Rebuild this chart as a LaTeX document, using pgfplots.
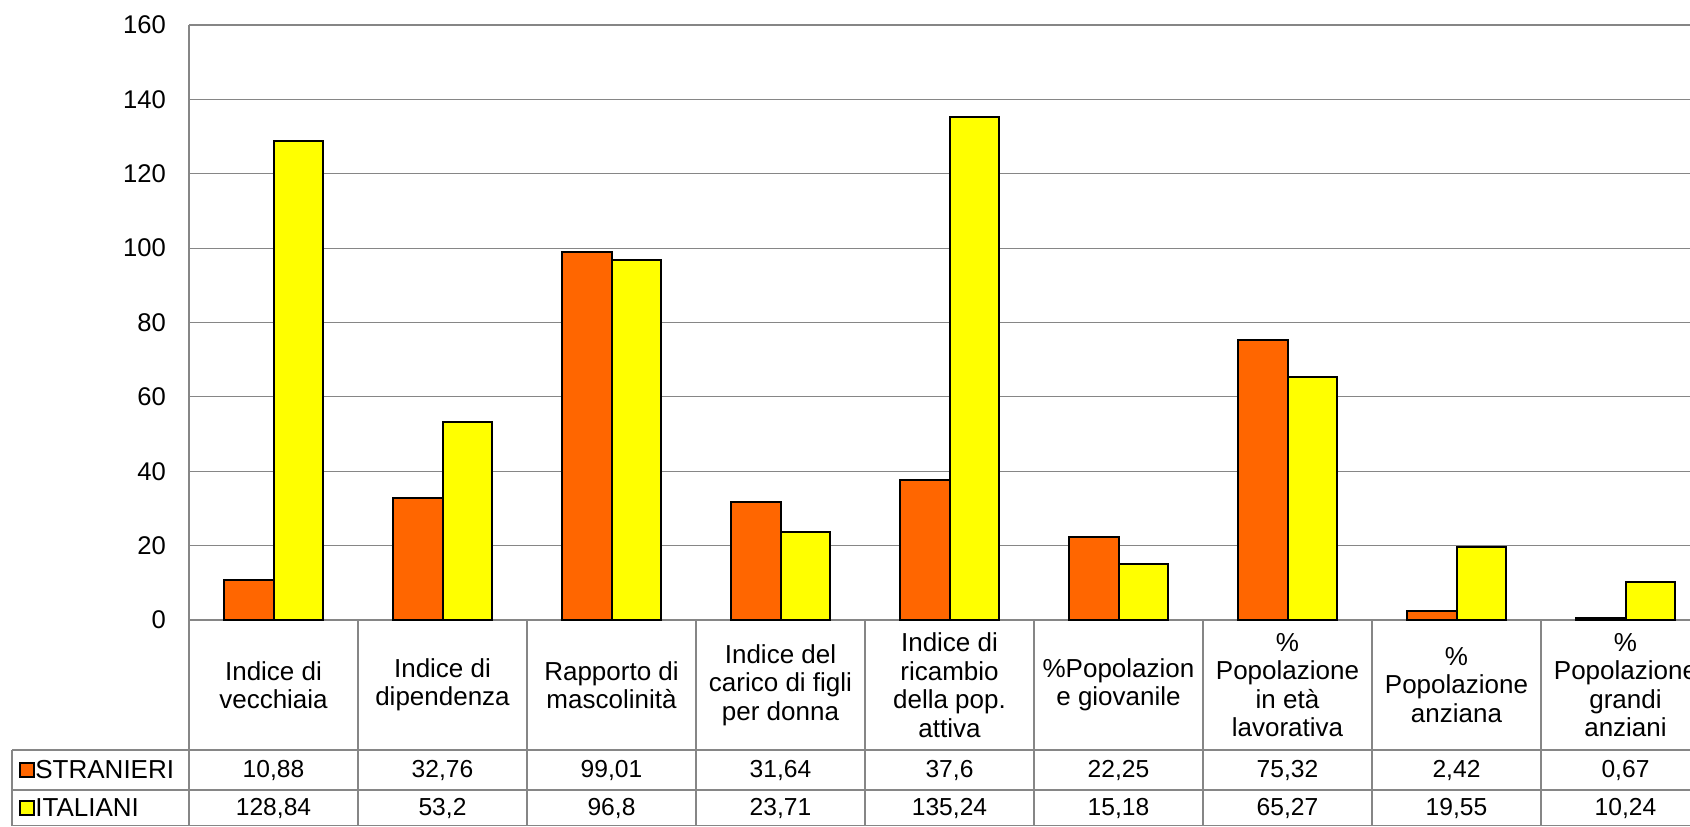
\documentclass[border=0pt]{standalone}
\usepackage{fontspec}
\setmainfont{Liberation Sans}
\usepackage{pgfplots}
\pgfplotsset{compat=1.18}
\definecolor{orng}{HTML}{FF6600}
\definecolor{ylw}{HTML}{FFFF00}
\definecolor{gridc}{HTML}{868686}
\newcommand\yt{\fontsize{12.8}{14}\selectfont}
\begin{document}
\begin{tikzpicture}[x=1pt,y=1pt]
\useasboundingbox (0,0) rectangle (845,413);
\clip (0,0) rectangle (845,413);
\begin{axis}[
  at={(94.5pt,103pt)}, anchor=south west,
  scale only axis, width=760.5pt, height=297.5pt,
  xmin=-0.5, xmax=8.5, ymin=0, ymax=160,
  ytick={0,20,40,60,80,100,120,140,160},
  yticklabels={\yt 0,\yt 20,\yt 40,\yt 60,\yt 80,\yt 100,\yt 120,\yt 140,\yt 160},
  xtick={0,...,8},
  xticklabels={{Indice di\\vecchiaia},{Indice di\\dipendenza},{Rapporto di\\mascolinità},{Indice del\\carico di figli\\per donna},{Indice di\\ricambio\\della pop.\\attiva},{\%Popolazion\\e giovanile},{\%\\Popolazione\\in età\\lavorativa},{\%\\Popolazione\\anziana},{\%\\Popolazione\\grandi\\anziani}},
  xticklabel style={font=\fontsize{13}{14.25}\selectfont, align=center, anchor=center, yshift=-32.5pt},
  yticklabel style={anchor=east, xshift=-8pt},
  axis x line*=bottom, axis y line*=left,
  axis line style={gridc, line width=0.6pt},
  major tick length=0pt,
  ymajorgrids, grid style={gridc, line width=0.6pt},
  clip=false,
  ybar=0pt, bar width=0.29,
]
\addplot[fill=orng, draw=black, line width=1pt, bar shift=-0.145] coordinates {
(0,10.88) (1,32.76) (2,99.01) (3,31.64) (4,37.6) (5,22.25) (6,75.32) (7,2.42) (8,0.67)};
\addplot[fill=ylw, draw=black, line width=1pt, bar shift=0.145] coordinates {
(0,128.84) (1,53.2) (2,96.8) (3,23.71) (4,135.24) (5,15.18) (6,65.27) (7,19.55) (8,10.24)};
\begin{scope}[every node/.style={font=\fontsize{12.3}{14}\selectfont}]
\node[yshift=-75pt] at (axis cs:0,0) {10,88};
\node[yshift=-75pt] at (axis cs:1,0) {32,76};
\node[yshift=-75pt] at (axis cs:2,0) {99,01};
\node[yshift=-75pt] at (axis cs:3,0) {31,64};
\node[yshift=-75pt] at (axis cs:4,0) {37,6};
\node[yshift=-75pt] at (axis cs:5,0) {22,25};
\node[yshift=-75pt] at (axis cs:6,0) {75,32};
\node[yshift=-75pt] at (axis cs:7,0) {2,42};
\node[yshift=-75pt] at (axis cs:8,0) {0,67};
\node[yshift=-94pt] at (axis cs:0,0) {128,84};
\node[yshift=-94pt] at (axis cs:1,0) {53,2};
\node[yshift=-94pt] at (axis cs:2,0) {96,8};
\node[yshift=-94pt] at (axis cs:3,0) {23,71};
\node[yshift=-94pt] at (axis cs:4,0) {135,24};
\node[yshift=-94pt] at (axis cs:5,0) {15,18};
\node[yshift=-94pt] at (axis cs:6,0) {65,27};
\node[yshift=-94pt] at (axis cs:7,0) {19,55};
\node[yshift=-94pt] at (axis cs:8,0) {10,24};
\end{scope}
\end{axis}
% data table grid
\begin{scope}[draw=gridc, line width=0.6pt]
\foreach \k in {0,...,9} {\draw (94.5+84.5*\k,103) -- (94.5+84.5*\k,0);}
\draw (6,38) -- (6,0);
\draw (6,38) -- (845,38);
\draw (6,18) -- (845,18);
\draw (6,0.3) -- (845,0.3);
\end{scope}
% legend keys
\draw[fill=orng, draw=black, line width=0.6pt] (10,24.5) rectangle (17,31.5);
\draw[fill=ylw, draw=black, line width=0.6pt] (10,5.5) rectangle (17,12.5);
\node[anchor=west, inner sep=0pt, font=\fontsize{13}{14}\selectfont] at (17.5,28) {STRANIERI};
\node[anchor=west, inner sep=0pt, font=\fontsize{13}{14}\selectfont] at (17.5,9) {ITALIANI};
\end{tikzpicture}
\end{document}
